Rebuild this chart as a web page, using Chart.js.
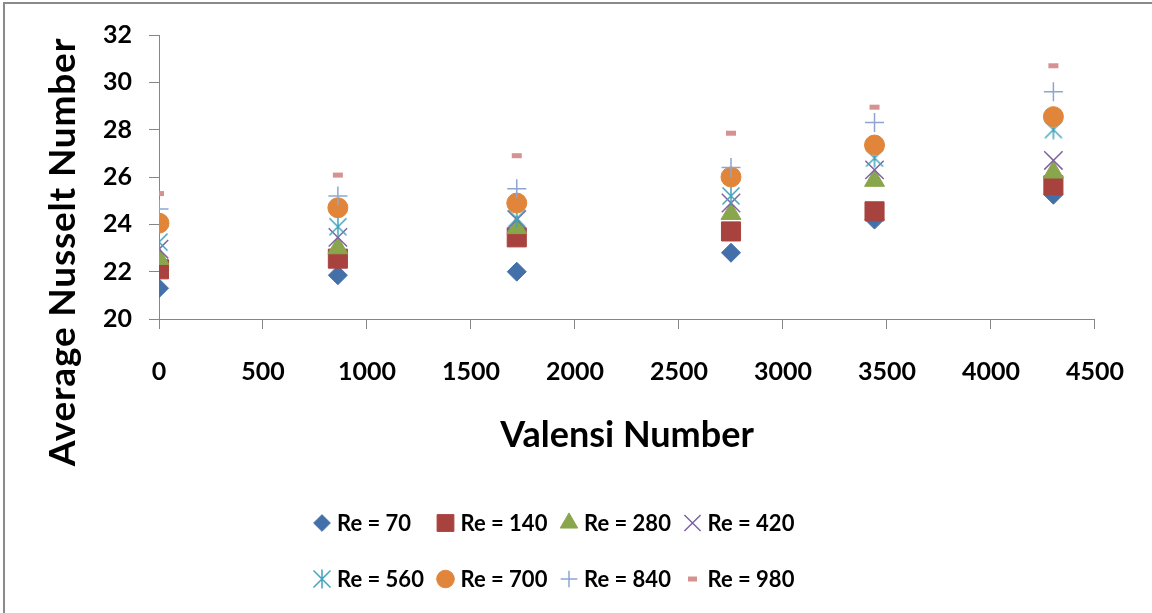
<!DOCTYPE html>
<html>
<head>
<meta charset="utf-8">
<title>Average Nusselt Number vs Valensi Number</title>
<script src="https://cdn.jsdelivr.net/npm/chart.js@4/dist/chart.umd.min.js"></script>
<style>
    html, body { margin: 0; padding: 0; background: #fff; }
    #wrap { width: 1152px; height: 613px; position: relative; }
    canvas { display: block; }
</style>
</head>
<body>
<div id="wrap"><canvas id="mainChart" width="1152" height="613"></canvas></div>
<script>
// Data
const valensi = [0, 860, 1720, 2750, 3440, 4300];
const seriesNames = ['Re = 70', 'Re = 140', 'Re = 280', 'Re = 420', 'Re = 560', 'Re = 700', 'Re = 840', 'Re = 980'];
const re70  = [21.3, 21.85, 22.0, 22.8, 24.2, 25.25];
const re140 = [22.1, 22.55, 23.45, 23.7, 24.55, 25.65];
const re280 = [22.55, 23.0, 23.85, 24.45, 25.85, 26.2];
const re420 = [22.95, 23.45, 24.2, 24.9, 26.3, 26.7];
const re560 = [23.25, 23.9, 24.25, 25.2, 26.8, 28.0];
const re700 = [24.05, 24.7, 24.9, 26.0, 27.35, 28.55];
const re840 = [24.65, 25.2, 25.5, 26.4, 28.3, 29.6];
const re980 = [25.3, 26.08, 26.9, 27.85, 28.95, 30.7];
const yTicks = [20, 22, 24, 26, 28, 30, 32];
const xTicks = [0, 500, 1000, 1500, 2000, 2500, 3000, 3500, 4000, 4500];

const FONT = 'Lato, "Open Sans", sans-serif';
const AXIS_GRAY = '#868686';

// asterisk marker (X with a vertical bar), like the Excel one
function makeAsterisk(color, size) {
    const c = document.createElement('canvas');
    c.width = size; c.height = size;
    const g = c.getContext('2d');
    const m = 1.5, s = size;
    g.strokeStyle = color;
    g.lineWidth = 1.5;
    g.beginPath();
    g.moveTo(m, m); g.lineTo(s - m, s - m);
    g.moveTo(s - m, m); g.lineTo(m, s - m);
    g.moveTo(s / 2, m - 1); g.lineTo(s / 2, s - m + 1);
    g.stroke();
    return c;
}

const seriesValues = [re70, re140, re280, re420, re560, re700, re840, re980];
const styles = [
    { color: '#4470AA', pointStyle: 'rectRot', radius: 9.5, border: 1 },
    { color: '#A8423F', pointStyle: 'rect', radius: 13.5, border: 1 },
    { color: '#8AA64C', pointStyle: 'triangle', radius: 11.5, border: 1 },
    { color: '#7F63A1', pointStyle: 'crossRot', radius: 13, border: 1.5 },
    { color: '#41A3BC', pointStyle: makeAsterisk('#41A3BC', 20), radius: 10, border: 1 },
    { color: '#E0853A', pointStyle: 'circle', radius: 10, border: 1 },
    { color: '#8EA6CF', pointStyle: 'cross', radius: 9.5, border: 1.5 },
    { color: '#D69291', pointStyle: 'line', radius: 5, border: 5 }
];

// Legend laid out in columns, the way Excel does it
const legendGrid = {
    id: 'legendGrid',
    afterDraw(chart) {
        const ctx = chart.ctx;
        ctx.save();
        chart.data.datasets.forEach((ds, i) => {
            const col = i % 4, row = Math.floor(i / 4);
            const x = 322 + col * 123.5;
            const y = 523 + row * 56;
            const st = styles[i];
            ctx.fillStyle = st.color;
            ctx.strokeStyle = st.color;
            ctx.lineWidth = st.border;
            Chart.helpers.drawPoint(ctx, {
                pointStyle: st.pointStyle,
                radius: st.pointStyle === 'line' ? 4.5 : st.radius * 0.88,
                rotation: 0,
                borderWidth: st.border
            }, x, y);
            ctx.fillStyle = '#000';
            ctx.font = 'bold 22px ' + FONT;
            ctx.textAlign = 'left';
            ctx.textBaseline = 'middle';
            ctx.fillText(ds.label, x + 15, y + 1);
        });
        ctx.restore();
    }
};

// Y title and the picture frame
const extras = {
    id: 'extras',
    afterDraw(chart) {
        const ctx = chart.ctx;
        ctx.save();
        ctx.fillStyle = '#8a8a8a';
        ctx.fillRect(3, 2, 1149, 2);
        ctx.fillRect(3, 2, 2, 611);
        ctx.translate(63, 252);
        ctx.rotate(-Math.PI / 2);
        ctx.fillStyle = '#000';
        ctx.font = 'bold 37px ' + FONT;
        ctx.letterSpacing = '0.8px';
        ctx.textAlign = 'center';
        ctx.textBaseline = 'middle';
        ctx.fillText('Average Nusselt Number', 0, 0);
        ctx.restore();
    }
};

function initChart() {
    const ctx = document.getElementById('mainChart').getContext('2d');
    const datasets = seriesNames.map((name, i) => ({
        label: name,
        data: valensi.map((v, k) => ({ x: v, y: seriesValues[i][k] })),
        showLine: false,
        pointStyle: styles[i].pointStyle,
        pointRadius: styles[i].radius,
        pointBackgroundColor: styles[i].color,
        pointBorderColor: styles[i].color,
        pointBorderWidth: styles[i].border,
        order: seriesNames.length - i
    }));

    new Chart(ctx, {
        type: 'scatter',
        data: { datasets },
        plugins: [legendGrid, extras],
        options: {
            responsive: false,
            animation: false,
            events: [],
            layout: { padding: { left: 0, top: 35, right: 56, bottom: 144 } },
            plugins: { legend: { display: false }, tooltip: { enabled: false } },
            scales: {
                x: {
                    type: 'linear',
                    min: xTicks[0],
                    max: xTicks[xTicks.length - 1],
                    afterBuildTicks: s => { s.ticks = xTicks.map(v => ({ value: v })); },
                    afterFit: s => { s.height = 150; },
                    grid: { drawOnChartArea: false, drawTicks: true, tickLength: 10, color: AXIS_GRAY },
                    border: { color: AXIS_GRAY, width: 1 },
                    ticks: {
                        color: '#000',
                        padding: 28,
                        font: { family: FONT, size: 25, weight: 'bold' },
                        callback: v => String(v)
                    },
                    title: {
                        display: true,
                        text: 'Valensi Number',
                        color: '#000',
                        font: { family: FONT, size: 36, weight: 'bold' },
                        padding: { top: 0, bottom: 12 }
                    }
                },
                y: {
                    min: yTicks[0],
                    max: yTicks[yTicks.length - 1],
                    afterBuildTicks: s => { s.ticks = yTicks.map(v => ({ value: v })); },
                    afterFit: s => { s.width = 159; },
                    grid: { drawOnChartArea: false, drawTicks: true, tickLength: 10, color: AXIS_GRAY },
                    border: { color: AXIS_GRAY, width: 1 },
                    ticks: {
                        color: '#000',
                        padding: 17,
                        font: { family: FONT, size: 25, weight: 'bold' },
                        callback: v => String(v)
                    }
                }
            }
        }
    });
}

window.addEventListener('load', initChart);
</script>
</body>
</html>
